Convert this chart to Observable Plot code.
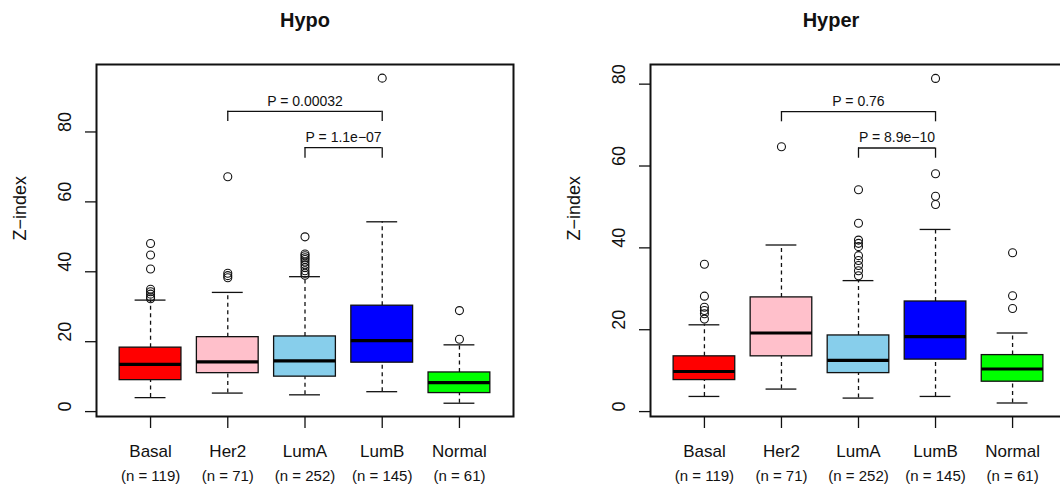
<!DOCTYPE html>
<html>
<head>
<meta charset="utf-8">
<script src="https://cdn.jsdelivr.net/npm/d3@7"></script>
<script src="https://cdn.jsdelivr.net/npm/@observablehq/plot@0.6"></script>
<style>
  html, body { margin: 0; padding: 0; background: #fff; }
  #wrap { position: relative; width: 1060px; height: 484px; overflow: hidden; font-family: "Liberation Sans", Arial, sans-serif; }
  .panel { position: absolute; top: 0; width: 530px; height: 484px; }
  .panel svg { max-width: none !important; width: 530px; height: 484px; display: block; }
  .title { position: absolute; top: 8px; transform: translateX(-50%); font-weight: bold; font-size: 20px; color: #111; white-space: nowrap; line-height: 24px; }
</style>
</head>
<body>
<div id="wrap"></div>
<script>
// ---- data ----
const subtypes = ["Basal", "Her2", "LumA", "LumB", "Normal"];
const counts = [119, 71, 252, 145, 61];
const boxColors = ["#FF0000", "#FFC0CB", "#87CEEB", "#0000FF", "#00FF00"];
const yTicksHypo = [0, 20, 40, 60, 80];
const yTicksHyper = [0, 20, 40, 60, 80];

// Hypo panel box statistics
const hypoLow  = [4.0, 5.3, 4.8, 5.7, 2.4];
const hypoQ1   = [9.0, 11.0, 10.0, 14.0, 5.3];
const hypoMed  = [13.5, 14.2, 14.5, 20.3, 8.3];
const hypoQ3   = [18.3, 21.3, 21.5, 30.3, 11.2];
const hypoHigh = [31.9, 34.1, 38.6, 54.3, 19.1];
const hypoOutliers = [
  [48.1, 44.8, 40.8, 35.0, 34.3, 33.6, 32.8, 32.3],
  [67.2, 39.6, 38.9, 38.3],
  [50.0, 45.1, 44.6, 44.0, 43.5, 42.8, 42.0, 41.2, 40.3, 39.6, 39.0],
  [95.4],
  [28.9, 20.7]
];
const hypoPairs = [["Her2", "LumB"], ["LumA", "LumB"]];
const hypoPLabels = ["P = 0.00032", "P = 1.1e\u221207"];
const hypoBracketTop = [85.9, 75.5];
const hypoBracketFoot = [83.0, 72.5];

// Hyper panel box statistics
const hyperLow  = [3.7, 5.5, 3.3, 3.7, 2.1];
const hyperQ1   = [7.7, 13.5, 9.4, 12.7, 7.3];
const hyperMed  = [9.8, 19.2, 12.5, 18.3, 10.4];
const hyperQ3   = [13.5, 27.9, 18.6, 26.9, 13.8];
const hyperHigh = [21.2, 40.7, 32.0, 44.5, 19.2];
const hyperOutliers = [
  [36.0, 28.2, 25.5, 24.7, 23.9, 22.6],
  [64.7],
  [54.2, 46.0, 41.9, 41.1, 40.3, 38.1, 36.9, 35.7, 34.4, 33.2],
  [81.4, 58.1, 52.6, 50.6],
  [38.8, 28.3, 25.2]
];
const hyperPairs = [["Her2", "LumB"], ["LumA", "LumB"]];
const hyperPLabels = ["P = 0.76", "P = 8.9e\u221210"];
const hyperBracketTop = [73.3, 64.4];
const hyperBracketFoot = [70.8, 61.9];

// ---- build ----
const FONT = '"Liberation Sans", Arial, sans-serif';
const pos = s => subtypes.indexOf(s) + 1;
const positions = subtypes.map((s, i) => i + 1);

function panel({low, q1, med, q3, high, outliers, pairs, pLabels, bTop, bFoot, yDomain, yTicks, marginRight}) {
  const stats = subtypes.map((s, i) => ({sub: s, p: i + 1, lo: low[i], q1: q1[i], med: med[i], q3: q3[i], hi: high[i]}));
  const outs = subtypes.flatMap((s, i) => outliers[i].map(v => ({sub: s, p: i + 1, v})));
  const br = pairs.map(([a, b], i) => ({a: pos(a), b: pos(b), top: bTop[i], foot: bFoot[i], label: pLabels[i]}));
  const legs = br.flatMap(d => [{x: d.a, top: d.top, foot: d.foot}, {x: d.b, top: d.top, foot: d.foot}]);
  return Plot.plot({
    width: 530,
    height: 484,
    marginLeft: 96,
    marginRight,
    marginTop: 64,
    marginBottom: 68,
    x: {domain: [0.3, 5.7]},
    y: {domain: yDomain},
    color: {domain: subtypes, range: boxColors},
    style: {fontFamily: FONT, background: "white", color: "#111", overflow: "visible"},
    marks: [
      // whiskers
      Plot.ruleX(stats, {x: "p", y1: "lo", y2: "q1", stroke: "#111", strokeWidth: 1.3, strokeDasharray: "4,3.5"}),
      Plot.ruleX(stats, {x: "p", y1: "q3", y2: "hi", stroke: "#111", strokeWidth: 1.3, strokeDasharray: "4,3.5"}),
      // staples
      Plot.ruleY(stats, {y: "lo", x1: d => d.p - 0.2, x2: d => d.p + 0.2, stroke: "#111", strokeWidth: 1.3}),
      Plot.ruleY(stats, {y: "hi", x1: d => d.p - 0.2, x2: d => d.p + 0.2, stroke: "#111", strokeWidth: 1.3}),
      // boxes
      Plot.rect(stats, {x1: d => d.p - 0.4, x2: d => d.p + 0.4, y1: "q1", y2: "q3", fill: "sub", stroke: "#111", strokeWidth: 1.3}),
      // medians
      Plot.ruleY(stats, {y: "med", x1: d => d.p - 0.4, x2: d => d.p + 0.4, stroke: "#000", strokeWidth: 3.2}),
      // outliers
      Plot.dot(outs, {x: "p", y: "v", r: 4, stroke: "#111", strokeWidth: 1.1, fill: "none"}),
      // brackets
      Plot.ruleY(br, {y: "top", x1: "a", x2: "b", stroke: "#111", strokeWidth: 1.3}),
      Plot.ruleX(legs, {x: "x", y1: "foot", y2: "top", stroke: "#111", strokeWidth: 1.3}),
      Plot.text(br, {x: d => (d.a + d.b) / 2, y: "top", dy: -10, text: "label", fontSize: 14, fill: "#111"}),
      // frame
      Plot.frame({stroke: "#111", strokeWidth: 2}),
      // axes
      Plot.axisY(yTicks, {tickSize: 11, strokeWidth: 1.3, tickFormat: () => ""}),
      Plot.text(yTicks, {y: d => d, text: d => String(d), frameAnchor: "left", dx: -31.5, rotate: -90, fontSize: 18, fill: "#111"}),
      Plot.text(["Z\u2212index"], {text: d => d, frameAnchor: "left", dx: -76, rotate: -90, fontSize: 18, fill: "#111"}),
      Plot.axisX(positions, {tickSize: 12, strokeWidth: 1.3, tickPadding: 16, tickFormat: i => subtypes[i - 1], fontSize: 17, fill: "#111"}),
      Plot.axisX(positions, {tickSize: 0, tickPadding: 54, tickFormat: i => `(n = ${counts[i - 1]})`, fontSize: 15, fill: "#111"})
    ]
  });
}

const wrap = document.getElementById("wrap");

const left = panel({low: hypoLow, q1: hypoQ1, med: hypoMed, q3: hypoQ3, high: hypoHigh, outliers: hypoOutliers,
  pairs: hypoPairs, pLabels: hypoPLabels, bTop: hypoBracketTop, bFoot: hypoBracketFoot,
  yDomain: [-1.4, 99.3], yTicks: yTicksHypo, marginRight: 17});
const right = panel({low: hyperLow, q1: hyperQ1, med: hyperMed, q3: hyperQ3, high: hyperHigh, outliers: hyperOutliers,
  pairs: hyperPairs, pLabels: hyperPLabels, bTop: hyperBracketTop, bFoot: hyperBracketFoot,
  yDomain: [-1.2, 84.8], yTicks: yTicksHyper, marginRight: 18});

const d1 = document.createElement("div"); d1.className = "panel"; d1.style.left = "0px"; d1.appendChild(left);
const d2 = document.createElement("div"); d2.className = "panel"; d2.style.left = "554px"; d2.appendChild(right);
wrap.appendChild(d1); wrap.appendChild(d2);

const t1 = document.createElement("div"); t1.className = "title"; t1.style.left = "305px"; t1.textContent = "Hypo";
const t2 = document.createElement("div"); t2.className = "title"; t2.style.left = "831px"; t2.textContent = "Hyper";
wrap.appendChild(t1); wrap.appendChild(t2);
</script>
</body>
</html>
